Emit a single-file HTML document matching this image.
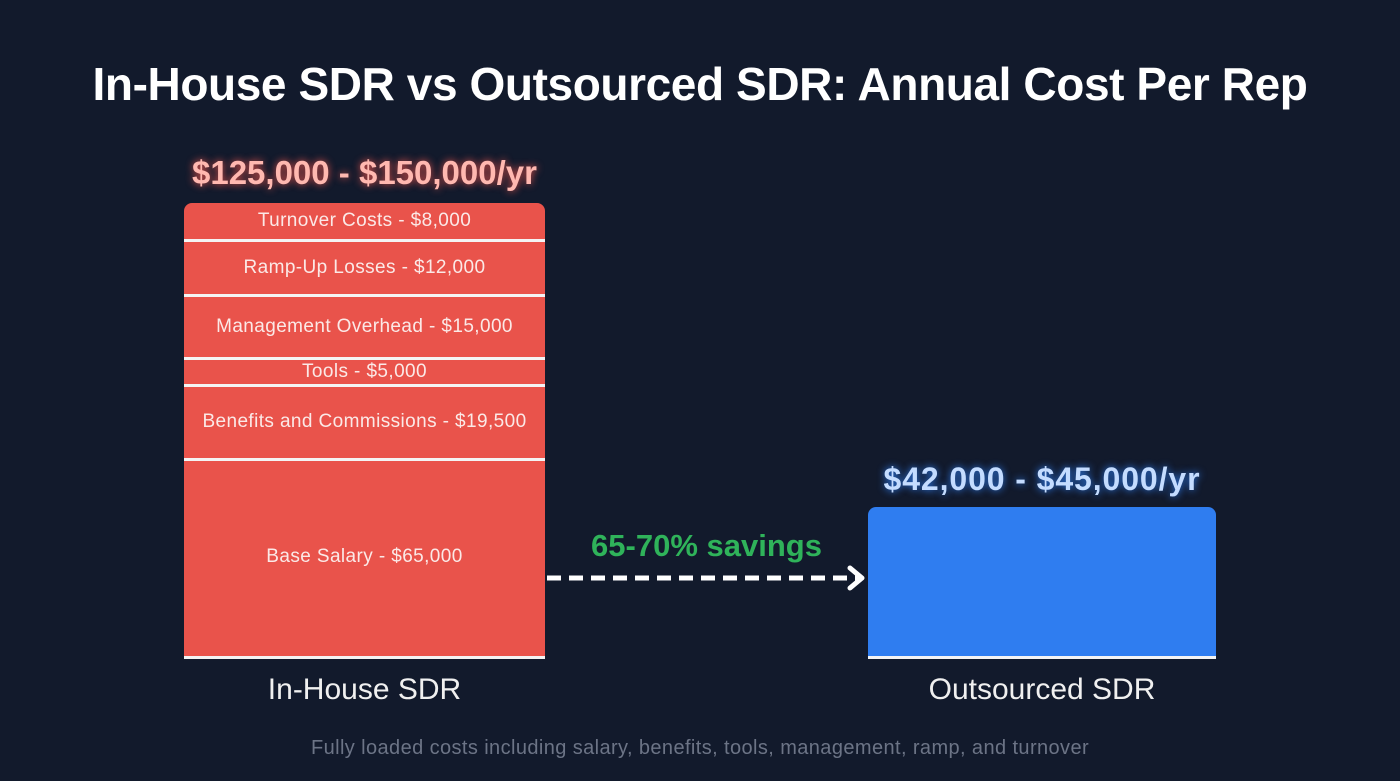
<!DOCTYPE html>
<html><head><style>
body{margin:0;width:1400px;height:781px;background:#121a2c;position:relative;overflow:hidden;font-family:"Liberation Sans",sans-serif}
.t{position:absolute;left:0;width:1400px;text-align:center;top:57px;font-size:46px;font-weight:bold;color:#fff;letter-spacing:-0.4px}
.bar{position:absolute;left:184px;top:203px;width:361px;height:454px;background:#e9534b;border-radius:8px 8px 0 0}
.ln{position:absolute;left:184px;width:361px;height:3px;background:#f4f4f4}
.lb{position:absolute;left:184px;width:361px;text-align:center;color:#fbe9e7;font-size:19px;letter-spacing:0.4px}
.blue{position:absolute;left:868px;top:507px;width:348px;height:150px;background:#2f7df0;border-radius:8px 8px 0 0}
.abs{position:absolute;text-align:center}
</style></head><body>
<div class="t">In-House SDR vs Outsourced SDR: Annual Cost Per Rep</div>
<div class="abs" style="left:184px;width:361px;top:154px;font-size:33px;font-weight:bold;color:#ffb8b0;text-shadow:0 0 8px #e9534b">$125,000 - $150,000/yr</div>
<div class="bar"></div>
<div class="ln" style="top:239px"></div>
<div class="ln" style="top:294px"></div>
<div class="ln" style="top:357px"></div>
<div class="ln" style="top:384px"></div>
<div class="ln" style="top:458px"></div>
<div class="ln" style="top:656px"></div>
<div class="lb" style="top:210px">Turnover Costs - $8,000</div>
<div class="lb" style="top:257px">Ramp-Up Losses - $12,000</div>
<div class="lb" style="top:316px">Management Overhead - $15,000</div>
<div class="lb" style="top:361px">Tools - $5,000</div>
<div class="lb" style="top:411px">Benefits and Commissions - $19,500</div>
<div class="lb" style="top:546px">Base Salary - $65,000</div>
<div class="abs" style="left:184px;width:361px;top:673px;font-size:30px;color:#f0f0f0">In-House SDR</div>
<div class="abs" style="left:840px;width:404px;top:461px;font-size:32px;font-weight:bold;letter-spacing:0.9px;color:#c4dcff;text-shadow:0 0 8px #2f7df0">$42,000 - $45,000/yr</div>
<div class="blue"></div>
<div class="ln" style="left:868px;width:348px;top:656px"></div>
<div class="abs" style="left:868px;width:348px;top:673px;font-size:30px;color:#f0f0f0">Outsourced SDR</div>
<div class="abs" style="left:530px;width:353px;top:528px;font-size:31px;font-weight:bold;color:#2fb35a">65-70% savings</div>
<svg style="position:absolute;left:545px;top:565px" width="323" height="28">
<line x1="2" y1="13" x2="316" y2="13" stroke="#fff" stroke-width="5" stroke-dasharray="14,8"/>
<polyline points="305,3 317,13 305,23" fill="none" stroke="#fff" stroke-width="5" stroke-linecap="round" stroke-linejoin="round"/>
</svg>
<div class="abs" style="left:0;width:1400px;top:737px;font-size:20px;letter-spacing:0.4px;color:#6c7486">Fully loaded costs including salary, benefits, tools, management, ramp, and turnover</div>
</body></html>
